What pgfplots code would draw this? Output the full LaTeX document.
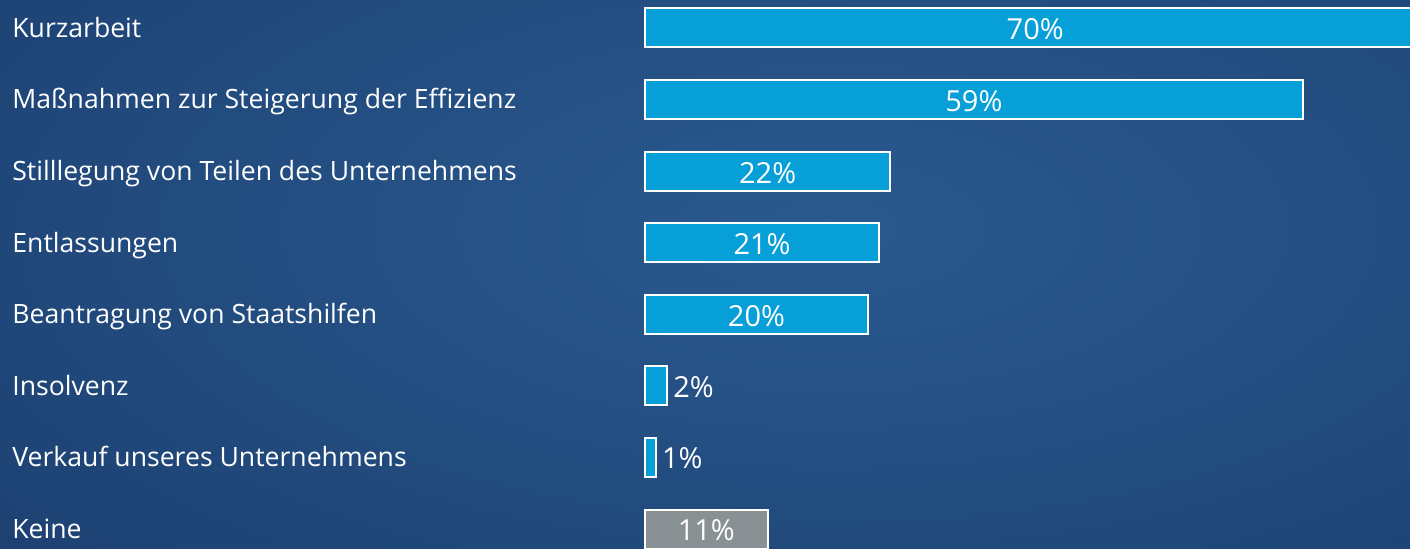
\documentclass[border=0pt]{standalone}
\usepackage{fontspec}
\setmainfont{Open Sans}
\usepackage{pgfplots}
\pgfplotsset{compat=1.18}
\definecolor{bgin}{HTML}{2A5A8F}
\definecolor{bgout}{HTML}{1B3D6E}
\definecolor{barblue}{HTML}{079FD7}
\definecolor{bargray}{HTML}{8A9194}
\begin{document}
\begin{tikzpicture}
\path[use as bounding box] (0,0) rectangle (705pt,274pt);
\clip (0,0) rectangle (705pt,274pt);
\shade[inner color=bgin, outer color=bgout] (-220pt,-120pt) rectangle (1050pt,440pt);
\begin{axis}[
  at={(322.5pt,-26.29pt)}, anchor=south west,
  x=5.575pt, y=35.79pt,
  xmin=0, xmax=75, ymin=-1, ymax=8,
  axis line style={draw=none},
  xtick=\empty,
  ytick={0,...,7},
  yticklabels={Keine, Verkauf unseres Unternehmens, Insolvenz, Beantragung von Staatshilfen, Entlassungen, Stilllegung von Teilen des Unternehmens, Maßnahmen zur Steigerung der Effizienz, Kurzarbeit},
  major tick length=0pt,
  yticklabel style={anchor=base west, inner sep=0pt, xshift=-316.5pt, yshift=-4.7pt, font=\fontsize{13.3}{16}\selectfont, text=white},
  xbar, bar width=19.5pt,
  clip=false,
  /pgf/number format/assume math mode=true,
]
\addplot[fill=barblue, draw=white, line width=1pt, bar shift=0pt,
  visualization depends on={x \as \rawx},
  nodes near coords={\pgfmathprintnumber{\pgfplotspointmeta}\%},
  nodes near coords style={anchor=center, inner sep=0pt, yshift=-0.8pt, shift={(axis direction cs:-\rawx/2,0)}, font=\fontsize{14.5}{17}\selectfont, text=white}]
  coordinates {(70,7) (59,6) (22,5) (21,4) (20,3)};
\addplot[fill=barblue, draw=white, line width=1pt, bar shift=0pt,
  nodes near coords={\pgfmathprintnumber{\pgfplotspointmeta}\%},
  nodes near coords style={anchor=west, inner sep=0pt, xshift=2.5pt, yshift=-0.5pt, font=\fontsize{14.5}{17}\selectfont, text=white}]
  coordinates {(2,2) (1,1)};
\addplot[fill=bargray, draw=white, line width=1pt, bar shift=0pt,
  visualization depends on={x \as \rawx},
  nodes near coords={\pgfmathprintnumber{\pgfplotspointmeta}\%},
  nodes near coords style={anchor=center, inner sep=0pt, yshift=-0.8pt, shift={(axis direction cs:-\rawx/2,0)}, font=\fontsize{14.5}{17}\selectfont, text=white}]
  coordinates {(11,0)};
\end{axis}
\end{tikzpicture}
\end{document}
